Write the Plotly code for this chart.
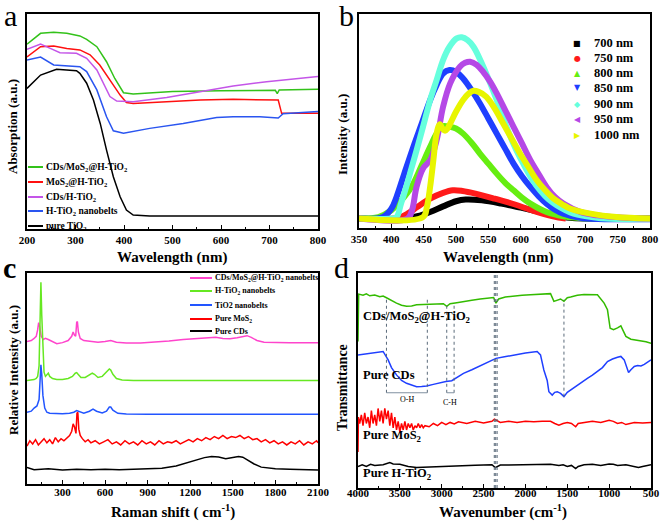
import plotly.graph_objects as go

W, H = 661, 525
def px(x): return x / W
def py(y): return 1 - y / H

SERIF = "Liberation Serif"

# ---------------- Panel a: UV-vis absorption ----------------
a_green_x = [200, 228, 255, 282, 309, 323, 344, 364, 381, 399, 419, 467, 500, 600, 700, 712, 716, 720, 800]
a_green_y = [0.86, 0.91, 0.915, 0.91, 0.898, 0.882, 0.848, 0.778, 0.70, 0.634, 0.628, 0.634, 0.639, 0.643, 0.647, 0.645, 0.630, 0.647, 0.65]
a_red_x = [200, 228, 255, 282, 309, 330, 350, 371, 392, 405, 419, 488, 557, 625, 718, 725, 800]
a_red_y = [0.80, 0.848, 0.851, 0.84, 0.833, 0.81, 0.763, 0.693, 0.623, 0.588, 0.584, 0.592, 0.60, 0.603, 0.60, 0.538, 0.538]
a_purple_x = [200, 228, 248, 268, 302, 323, 344, 357, 371, 385, 419, 488, 557, 625, 694, 800]
a_purple_y = [0.836, 0.86, 0.84, 0.82, 0.817, 0.794, 0.74, 0.678, 0.616, 0.595, 0.592, 0.612, 0.639, 0.665, 0.685, 0.709]
a_blue_x = [200, 228, 255, 282, 309, 323, 344, 364, 378, 399, 453, 522, 591, 625, 680, 718, 728, 800]
a_blue_y = [0.786, 0.80, 0.763, 0.758, 0.755, 0.732, 0.647, 0.522, 0.457, 0.445, 0.468, 0.491, 0.519, 0.522, 0.522, 0.516, 0.536, 0.547]
a_black_x = [200, 228, 261, 302, 309, 323, 337, 351, 364, 378, 392, 405, 419, 453, 800]
a_black_y = [0.654, 0.716, 0.743, 0.736, 0.724, 0.678, 0.60, 0.491, 0.367, 0.243, 0.15, 0.088, 0.065, 0.06, 0.06]
a_names = ["CDs/MoS<sub>2</sub>@H-TiO<sub>2</sub>", "MoS<sub>2</sub>@H-TiO<sub>2</sub>",
           "CDs/H-TiO<sub>2</sub>", "H-TiO<sub>2</sub> nanobelts", "pure TiO<sub>2</sub>"]
a_colors = ["#33c21a", "#ff1010", "#c455e8", "#2a55f0", "#000000"]

# ---------------- Panel b: PL spectra ----------------
b_names = ["700 nm", "750 nm", "800 nm", "850 nm", "900 nm", "950 nm", "1000 nm"]
b_colors = ["#000000", "#ff1a1a", "#66ee11", "#1f3fff", "#66ffdd", "#b548e6", "#e8f500"]
b_symbols = ["■", "●", "▲", "▼", "◆", "◀", "▶"]
b_x = [
    [350, 420, 440, 460, 480, 500, 515, 540, 570, 600, 630, 660, 680, 800],
    [350, 410, 425, 440, 460, 480, 495, 510, 530, 560, 590, 620, 650, 670],
    [350, 380, 400, 420, 434, 447, 460, 470, 480, 490, 500, 511, 525, 537, 550, 563, 576, 589, 602, 615, 640, 666, 690, 720, 800],
    [350, 387, 400, 408, 420, 434, 447, 460, 470, 480, 490, 500, 511, 524, 537, 550, 563, 576, 589, 602, 615, 628, 640, 653, 666, 692, 720, 750, 800],
    [350, 400, 408, 415, 423, 431, 439, 449, 460, 470, 480, 490, 501, 509, 518, 527, 540, 553, 566, 578, 591, 604, 617, 630, 643, 656, 682, 718, 750, 800],
    [350, 425, 432, 439, 449, 460, 470, 480, 491, 506, 514, 522, 532, 542, 553, 563, 576, 589, 602, 615, 628, 640, 653, 666, 692, 718, 760, 800],
    [350, 449, 455, 460, 465, 470, 475, 479, 483, 487, 491, 500, 511, 520, 527, 535, 547, 560, 573, 586, 599, 612, 625, 638, 651, 664, 677, 708, 748, 800],
]
b_y = [
    [0.044, 0.044, 0.055, 0.075, 0.101, 0.125, 0.133, 0.129, 0.114, 0.095, 0.075, 0.055, 0.047, 0.044],
    [0.044, 0.047, 0.067, 0.098, 0.137, 0.164, 0.176, 0.173, 0.161, 0.137, 0.111, 0.080, 0.055, 0.044],
    [0.044, 0.051, 0.083, 0.145, 0.207, 0.293, 0.379, 0.441, 0.476, 0.473, 0.465, 0.441, 0.395, 0.348, 0.301, 0.254, 0.211, 0.176, 0.142, 0.114, 0.075, 0.055, 0.047, 0.044, 0.044],
    [0.044, 0.051, 0.090, 0.145, 0.254, 0.379, 0.488, 0.598, 0.668, 0.722, 0.738, 0.730, 0.699, 0.645, 0.582, 0.512, 0.441, 0.371, 0.301, 0.242, 0.192, 0.148, 0.114, 0.086, 0.067, 0.048, 0.042, 0.041, 0.041],
    [0.044, 0.044, 0.051, 0.114, 0.192, 0.278, 0.363, 0.473, 0.598, 0.691, 0.785, 0.847, 0.886, 0.891, 0.878, 0.847, 0.769, 0.676, 0.574, 0.473, 0.379, 0.301, 0.231, 0.176, 0.134, 0.106, 0.067, 0.048, 0.042, 0.042],
    [0.044, 0.044, 0.083, 0.192, 0.278, 0.317, 0.410, 0.566, 0.676, 0.754, 0.772, 0.777, 0.762, 0.730, 0.683, 0.629, 0.551, 0.473, 0.395, 0.317, 0.251, 0.192, 0.145, 0.114, 0.075, 0.059, 0.048, 0.044],
    [0.044, 0.051, 0.098, 0.192, 0.317, 0.441, 0.485, 0.465, 0.454, 0.465, 0.488, 0.543, 0.598, 0.629, 0.641, 0.636, 0.613, 0.558, 0.488, 0.418, 0.348, 0.285, 0.223, 0.176, 0.137, 0.111, 0.090, 0.067, 0.051, 0.044],
]

# ---------------- Panel c: Raman ----------------
c_names = ["CDs/MoS<sub>2</sub>@H-TiO<sub>2</sub> nanobelts", "H-TiO<sub>2</sub> nanobelts",
           "TiO2 nanobelts", "Pure MoS<sub>2</sub>", "Pure CDs"]
c_colors = ["#ff44cc", "#66e822", "#2255ff", "#ff0000", "#000000"]
c_pink_x = [50, 80, 100, 115, 125, 132, 140, 150, 165, 180, 200, 230, 260, 300, 340, 365, 375, 385, 393, 400, 405, 412, 425, 450, 500, 550, 600, 640, 680, 750, 850, 950, 1050, 1150, 1250, 1330, 1380, 1430, 1480, 1530, 1570, 1600, 1630, 1670, 1720, 1800, 1900, 2000, 2100]
c_pink_y = [0.675, 0.68, 0.69, 0.70, 0.73, 0.765, 0.745, 0.70, 0.685, 0.69, 0.685, 0.675, 0.665, 0.67, 0.68, 0.70, 0.72, 0.705, 0.70, 0.765, 0.77, 0.72, 0.69, 0.68, 0.675, 0.672, 0.675, 0.68, 0.672, 0.668, 0.668, 0.672, 0.678, 0.685, 0.69, 0.695, 0.695, 0.69, 0.688, 0.693, 0.70, 0.703, 0.695, 0.68, 0.672, 0.67, 0.67, 0.67, 0.67]
c_green_x = [50, 80, 100, 115, 125, 135, 142, 148, 154, 162, 170, 180, 195, 200, 210, 230, 260, 300, 340, 370, 390, 400, 410, 430, 460, 490, 510, 525, 550, 580, 610, 630, 640, 655, 680, 720, 800, 1000, 1200, 1500, 1800, 2100]
c_green_y = [0.49, 0.492, 0.495, 0.50, 0.51, 0.56, 0.75, 0.956, 0.80, 0.60, 0.53, 0.51, 0.52, 0.525, 0.51, 0.50, 0.495, 0.495, 0.50, 0.51, 0.525, 0.528, 0.52, 0.505, 0.505, 0.515, 0.525, 0.52, 0.505, 0.51, 0.53, 0.545, 0.54, 0.52, 0.50, 0.493, 0.49, 0.49, 0.49, 0.49, 0.49, 0.49]
c_blue_x = [50, 80, 100, 120, 135, 142, 148, 154, 162, 175, 190, 210, 250, 300, 350, 380, 400, 420, 450, 490, 515, 540, 580, 610, 630, 640, 655, 690, 750, 900, 1200, 1500, 1800, 2100]
c_blue_y = [0.34, 0.345, 0.36, 0.37, 0.40, 0.48, 0.565, 0.52, 0.42, 0.36, 0.34, 0.335, 0.333, 0.333, 0.335, 0.34, 0.348, 0.342, 0.336, 0.345, 0.355, 0.345, 0.337, 0.345, 0.365, 0.365, 0.35, 0.335, 0.332, 0.331, 0.331, 0.331, 0.331, 0.331]
c_red_x = [50, 70, 90, 110, 130, 150, 170, 190, 210, 230, 250, 270, 290, 310, 330, 350, 365, 375, 385, 395, 402, 408, 415, 425, 440, 460, 480, 500, 530, 560, 590, 620, 650, 680, 710, 740, 770, 800, 830, 860, 890, 920, 950, 980, 1010, 1040, 1070, 1100, 1130, 1160, 1190, 1220, 1250, 1280, 1310, 1340, 1370, 1400, 1430, 1460, 1490, 1520, 1550, 1580, 1610, 1640, 1670, 1700, 1730, 1760, 1790, 1820, 1850, 1880, 1910, 1940, 1970, 2000, 2030, 2060, 2090, 2100]
c_red_y = [0.18, 0.205, 0.19, 0.21, 0.185, 0.20, 0.215, 0.195, 0.21, 0.19, 0.22, 0.20, 0.215, 0.205, 0.22, 0.23, 0.25, 0.285, 0.27, 0.24, 0.335, 0.34, 0.26, 0.23, 0.215, 0.20, 0.21, 0.195, 0.205, 0.19, 0.20, 0.21, 0.19, 0.20, 0.185, 0.205, 0.19, 0.20, 0.185, 0.205, 0.19, 0.20, 0.185, 0.205, 0.19, 0.20, 0.195, 0.205, 0.19, 0.20, 0.21, 0.20, 0.215, 0.205, 0.22, 0.21, 0.225, 0.215, 0.23, 0.215, 0.225, 0.22, 0.23, 0.215, 0.225, 0.21, 0.215, 0.20, 0.21, 0.195, 0.205, 0.19, 0.20, 0.185, 0.20, 0.19, 0.205, 0.185, 0.20, 0.19, 0.205, 0.195]
c_black_x = [50, 100, 200, 300, 400, 500, 600, 700, 800, 900, 1000, 1100, 1150, 1200, 1250, 1300, 1350, 1400, 1450, 1500, 1540, 1570, 1600, 1650, 1700, 1750, 1800, 1900, 2000, 2100]
c_black_y = [0.078, 0.068, 0.072, 0.066, 0.07, 0.068, 0.07, 0.068, 0.07, 0.071, 0.075, 0.085, 0.095, 0.105, 0.115, 0.125, 0.13, 0.128, 0.12, 0.125, 0.13, 0.127, 0.115, 0.095, 0.08, 0.075, 0.072, 0.07, 0.068, 0.066]

# ---------------- Panel d: FTIR ----------------
d_labels = ["CDs/MoS<sub>2</sub>@H-TiO<sub>2</sub>", "Pure CDs", "Pure MoS<sub>2</sub>", "Pure H-TiO<sub>2</sub>"]
d_label_y = [0.795, 0.526, 0.241, 0.064]
d_colors = ["#33bb00", "#1f3fff", "#ff0000", "#000000"]
d_green_x = [4000, 3992, 3940, 3900, 3860, 3800, 3740, 3700, 3660, 3600, 3540, 3480, 3420, 3360, 3300, 3220, 3140, 3060, 2980, 2940, 2900, 2820, 2740, 2640, 2540, 2460, 2380, 2352, 2320, 2240, 2140, 2040, 1940, 1820, 1700, 1660, 1620, 1580, 1540, 1500, 1460, 1380, 1300, 1220, 1140, 1060, 1020, 988, 948, 900, 860, 830, 800, 740, 680, 620, 560, 500]
d_green_y = [0.681, 0.902, 0.897, 0.903, 0.894, 0.898, 0.89, 0.893, 0.885, 0.872, 0.86, 0.85, 0.845, 0.847, 0.852, 0.853, 0.855, 0.856, 0.857, 0.845, 0.857, 0.862, 0.868, 0.873, 0.879, 0.883, 0.886, 0.86, 0.879, 0.888, 0.894, 0.897, 0.899, 0.902, 0.904, 0.868, 0.874, 0.879, 0.868, 0.885, 0.888, 0.896, 0.90, 0.901, 0.899, 0.86, 0.829, 0.743, 0.736, 0.745, 0.754, 0.73, 0.705, 0.692, 0.688, 0.686, 0.68, 0.673]
d_blue_x = [4000, 3850, 3700, 3640, 3600, 3540, 3480, 3420, 3360, 3300, 3240, 3180, 3100, 3020, 2950, 2880, 2810, 2740, 2640, 2540, 2440, 2352, 2250, 2140, 2000, 1860, 1820, 1780, 1740, 1720, 1680, 1650, 1620, 1580, 1540, 1500, 1460, 1420, 1380, 1340, 1300, 1260, 1200, 1140, 1080, 1020, 960, 900, 860, 820, 790, 768, 740, 700, 660, 620, 580, 540, 500]
d_blue_y = [0.619, 0.627, 0.635, 0.596, 0.56, 0.526, 0.50, 0.487, 0.478, 0.471, 0.472, 0.474, 0.482, 0.49, 0.495, 0.499, 0.515, 0.533, 0.55, 0.568, 0.585, 0.603, 0.61, 0.619, 0.628, 0.635, 0.619, 0.549, 0.50, 0.448, 0.432, 0.445, 0.448, 0.44, 0.425, 0.445, 0.456, 0.47, 0.479, 0.49, 0.502, 0.51, 0.525, 0.541, 0.56, 0.588, 0.60, 0.608, 0.612, 0.596, 0.56, 0.537, 0.55, 0.565, 0.57, 0.568, 0.575, 0.585, 0.596]
d_red_x = [4000, 3995, 3980, 3960, 3940, 3920, 3900, 3880, 3860, 3840, 3820, 3800, 3780, 3760, 3740, 3720, 3700, 3680, 3660, 3640, 3620, 3600, 3580, 3560, 3540, 3520, 3500, 3480, 3460, 3440, 3420, 3400, 3380, 3360, 3340, 3320, 3300, 3280, 3260, 3240, 3220, 3200, 3150, 3100, 3050, 3000, 2950, 2900, 2850, 2800, 2700, 2600, 2500, 2400, 2370, 2350, 2300, 2200, 2100, 2000, 1900, 1800, 1700, 1650, 1600, 1550, 1500, 1450, 1400, 1370, 1300, 1200, 1100, 1000, 950, 900, 850, 800, 700, 600, 500]
d_red_y = [0.168, 0.33, 0.30, 0.34, 0.29, 0.35, 0.30, 0.33, 0.28, 0.36, 0.30, 0.34, 0.29, 0.37, 0.31, 0.36, 0.30, 0.37, 0.32, 0.36, 0.29, 0.35, 0.28, 0.33, 0.27, 0.31, 0.26, 0.30, 0.27, 0.31, 0.27, 0.30, 0.28, 0.30, 0.27, 0.29, 0.28, 0.30, 0.28, 0.295, 0.28, 0.29, 0.285, 0.30, 0.29, 0.305, 0.295, 0.305, 0.298, 0.308, 0.30, 0.31, 0.302, 0.31, 0.32, 0.315, 0.305, 0.31, 0.305, 0.31, 0.308, 0.31, 0.31, 0.30, 0.292, 0.30, 0.305, 0.30, 0.285, 0.30, 0.305, 0.31, 0.305, 0.315, 0.31, 0.30, 0.305, 0.295, 0.305, 0.302, 0.305]
d_black_x = [4000, 3950, 3900, 3850, 3800, 3700, 3620, 3580, 3500, 3400, 3300, 3200, 3100, 3000, 2900, 2800, 2700, 2600, 2500, 2400, 2360, 2340, 2300, 2200, 2000, 1800, 1700, 1600, 1550, 1500, 1450, 1400, 1370, 1300, 1200, 1100, 1000, 950, 900, 800, 700, 650, 600, 550, 500]
d_black_y = [0.10, 0.108, 0.10, 0.11, 0.105, 0.108, 0.118, 0.112, 0.11, 0.10, 0.095, 0.097, 0.098, 0.10, 0.102, 0.104, 0.105, 0.106, 0.107, 0.108, 0.095, 0.10, 0.107, 0.107, 0.108, 0.108, 0.11, 0.105, 0.108, 0.10, 0.105, 0.09, 0.10, 0.108, 0.11, 0.105, 0.112, 0.11, 0.105, 0.108, 0.10, 0.095, 0.10, 0.105, 0.108]

fig = go.Figure()

for xs, ys, c in zip([a_green_x, a_red_x, a_purple_x, a_blue_x, a_black_x],
                     [a_green_y, a_red_y, a_purple_y, a_blue_y, a_black_y], a_colors):
    fig.add_trace(go.Scatter(x=xs, y=ys, mode="lines", line=dict(color=c, width=1.5),
                             xaxis="x", yaxis="y", showlegend=False))
for xs, ys, c in zip(b_x, b_y, b_colors):
    fig.add_trace(go.Scatter(x=xs, y=ys, mode="lines", line=dict(color=c, width=6, shape="spline"),
                             xaxis="x2", yaxis="y2", showlegend=False))
for xs, ys, c in zip([c_pink_x, c_green_x, c_blue_x, c_red_x, c_black_x],
                     [c_pink_y, c_green_y, c_blue_y, c_red_y, c_black_y], c_colors):
    fig.add_trace(go.Scatter(x=xs, y=ys, mode="lines", line=dict(color=c, width=1.5),
                             xaxis="x3", yaxis="y3", showlegend=False))
for xs, ys, c in zip([d_green_x, d_blue_x, d_red_x, d_black_x],
                     [d_green_y, d_blue_y, d_red_y, d_black_y], d_colors):
    fig.add_trace(go.Scatter(x=xs, y=ys, mode="lines", line=dict(color=c, width=1.5),
                             xaxis="x4", yaxis="y4", showlegend=False))

tickfont = dict(family=SERIF, size=11, color="black", weight="bold")
def xax(domain, anchor, rng, dtick, minor_dtick, tick0=None, standoff=0):
    d = dict(domain=domain, anchor=anchor, range=rng, showline=True, mirror=True,
             linecolor="black", linewidth=1.5, ticks="inside", ticklen=4, tickwidth=1.2,
             tickcolor="black", dtick=dtick, showgrid=False, zeroline=False, tickfont=tickfont,
             automargin=False, ticklabelstandoff=standoff,
             minor=dict(ticks="inside", ticklen=2.5, dtick=minor_dtick, tickcolor="black", showgrid=False))
    if tick0 is not None:
        d["tick0"] = tick0
    return d
def yax(domain, anchor, rng):
    return dict(domain=domain, anchor=anchor, range=rng, showline=True, mirror=True,
                linecolor="black", linewidth=1.5, ticks="", showticklabels=False,
                showgrid=False, zeroline=False, automargin=False)

dom_a_x = [px(27), px(318)]; dom_a_y = [py(229), py(14)]
dom_b_x = [px(359), px(650)]; dom_b_y = [py(228), py(14)]
dom_c_x = [px(27), px(318)]; dom_c_y = [py(484), py(273)]
dom_d_x = [px(358), px(651)]; dom_d_y = [py(488), py(273)]

fig.update_layout(
    width=W, height=H, margin=dict(l=0, r=0, t=0, b=0, pad=0, autoexpand=False),
    paper_bgcolor="white", plot_bgcolor="white", showlegend=False,
    xaxis=xax(dom_a_x, "y", [200, 800], 100, 50),
    yaxis=yax(dom_a_y, "x", [0, 1]),
    xaxis2=xax(dom_b_x, "y2", [350, 800], 50, 25),
    yaxis2=yax(dom_b_y, "x2", [0, 1]),
    xaxis3=xax(dom_c_x, "y3", [50, 2100], 300, 150, tick0=0, standoff=-3),
    yaxis3=yax(dom_c_y, "x3", [0, 1]),
    xaxis4=xax(dom_d_x, "y4", [4000, 500], 500, 250, standoff=-6),
    yaxis4=yax(dom_d_y, "x4", [0, 1]),
)

ann = []
shapes = []
def text(x, y, t, size, weight="bold", xanchor="center", yanchor="middle", angle=0,
         xref="paper", yref="paper", color="black", family=SERIF):
    ann.append(dict(x=x, y=y, text=t, xref=xref, yref=yref, showarrow=False,
                    xanchor=xanchor, yanchor=yanchor, textangle=angle,
                    font=dict(family=family, size=size, color=color, weight=weight)))

text(px(10), py(15), "a", 30, weight="normal")
text(px(346), py(16), "b", 30, weight="normal")
text(px(9), py(267), "c", 30, weight="bold")
text(px(341), py(267), "d", 30, weight="normal")

text(px(172), py(257), "Wavelength (nm)", 15)
text(px(498), py(257), "Wavelength (nm)", 15)
text(px(173), py(511), "Raman shift ( cm<sup>-1</sup>)", 15)
text(px(503), py(511), "Wavenumber (cm<sup>-1</sup>)", 15)
text(px(13), py(127), "Absorption (a.u.)", 13, angle=-90)
text(px(342), py(134), "Intensity (a.u.)", 13, angle=-90)
text(px(13), py(370), "Relative Intensity (a.u.)", 13, angle=-90)
text(px(342), py(387), "Transmittance", 14, angle=-90)

a_leg_y = [167, 182, 197, 211, 226]
for name, c, yy in zip(a_names, a_colors, a_leg_y):
    shapes.append(dict(type="line", xref="paper", yref="paper", x0=px(28), x1=px(43),
                       y0=py(yy), y1=py(yy), line=dict(color=c, width=2)))
    text(px(44), py(yy), name, 9.5, xanchor="left")

b_leg_y = [43, 58, 73, 88, 104, 119, 135]
for name, c, sym, yy in zip(b_names, b_colors, b_symbols, b_leg_y):
    text(px(577), py(yy), sym, 8, weight="normal", color=c, family="DejaVu Sans")
    text(px(592), py(yy), name, 12.5, xanchor="left")

c_leg_y = [278, 291, 305, 319, 331]
for name, c, yy in zip(c_names, c_colors, c_leg_y):
    shapes.append(dict(type="line", xref="paper", yref="paper", x0=px(190), x1=px(212),
                       y0=py(yy), y1=py(yy), line=dict(color=c, width=2)))
    text(px(213), py(yy), name, 8, xanchor="left")

for lab, yy in zip(d_labels, d_label_y):
    text(3965, yy, lab, 12.5, xanchor="left", xref="x4", yref="y4")
text(3420, 0.41, "O-H", 8, weight="normal", xref="x4", yref="y4")
text(2905, 0.40, "C-H", 8, weight="normal", xref="x4", yref="y4")

guide = dict(color="#5a6a7a", width=1, dash="dot")
for xv, y0, y1 in [(3660, 0.443, 0.883), (3172, 0.443, 0.883), (2940, 0.443, 0.86),
                   (2852, 0.443, 0.86), (2372, 0.0, 1.0), (2355, 0.0, 1.0), (2338, 0.0, 1.0),
                   (1540, 0.425, 0.876)]:
    shapes.append(dict(type="line", xref="x4", yref="y4", x0=xv, x1=xv, y0=y0, y1=y1, line=guide))
for x0, x1 in [(3660, 3172), (2940, 2852)]:
    shapes.append(dict(type="line", xref="x4", yref="y4", x0=x0, x1=x1, y0=0.443, y1=0.443,
                       line=dict(color="#8090a0", width=1)))

fig.update_layout(annotations=ann, shapes=shapes)
fig.write_html("out.html", config={"displayModeBar": False},
               post_script="document.body.style.margin='0px';document.body.style.padding='0px';")
